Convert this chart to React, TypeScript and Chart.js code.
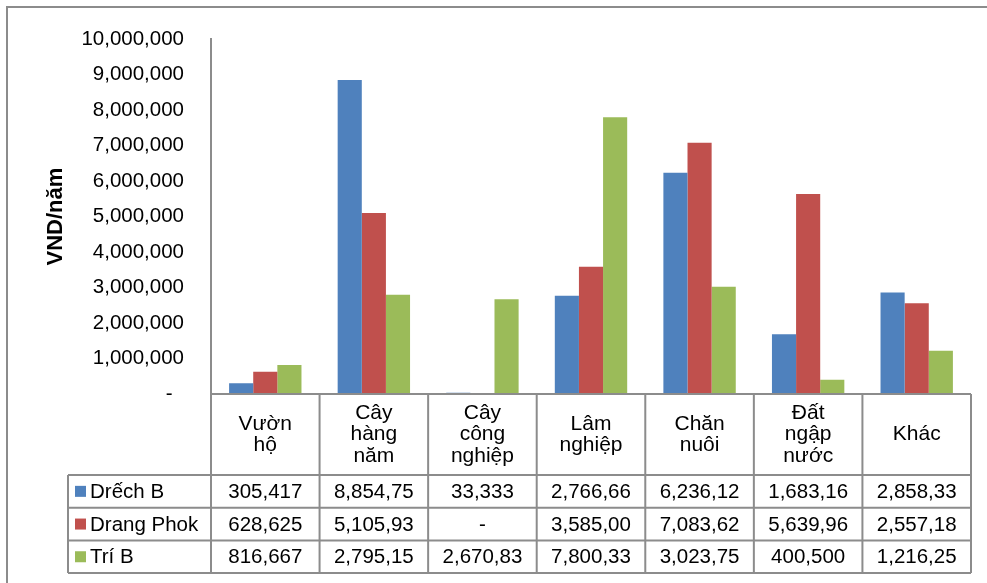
import React, { useEffect, useRef } from "react";
import { Chart, registerables } from "chart.js";

Chart.register(...registerables);

// Category labels, already broken into lines as they appear in the table header
const categories: string[][] = [
  ["Vườn", "hộ"],
  ["Cây", "hàng", "năm"],
  ["Cây", "công", "nghiệp"],
  ["Lâm", "nghiệp"],
  ["Chăn", "nuôi"],
  ["Đất", "ngập", "nước"],
  ["Khác"],
];

const seriesNames = ["Drếch B", "Drang Phok", "Trí B"];
const seriesColors = ["#4F81BD", "#C0504D", "#9BBB59"];

// Income by source, VND per year
const drechB = [305417, 8854750, 33333, 2766667, 6236125, 1683167, 2858333];
const drangPhok = [628625, 5105938, 0, 3585000, 7083625, 5639962, 2557188];
const triB = [816667, 2795150, 2670833, 7800333, 3023750, 400500, 1216250];

const seriesValues = [drechB, drangPhok, triB];

const yMax = 10000000;
const yStep = 1000000;
const yTitle = "VND/năm";

const LINE_COLOR = "#8C8C8C";
const FONT = "'Liberation Sans', Arial, sans-serif";
const NARROW_FONT = "'Liberation Sans Narrow', 'Arial Narrow', 'Liberation Sans', sans-serif";

// Cell text: thousands separators, zero shown as a dash, clipped to the cell width
function cellText(v: number): string {
  if (v === 0) return "-";
  const s = v.toLocaleString("en-US");
  return s.length > 8 ? s.slice(0, 8) : s;
}

const dataTablePlugin = {
  id: "dataTable",
  afterDraw(chart: any) {
    const { ctx, chartArea, scales } = chart;
    const xs = scales.x;
    const n = categories.length;
    const colW = (chartArea.right - chartArea.left) / n;
    const top = chartArea.bottom;
    const headerH = 81;
    const rowH = 32.7;
    const labelLeft = 68;
    const tableLeft = chartArea.left;
    const tableRight = chartArea.right;
    const rowsTop = top + headerH;
    const bottom = rowsTop + rowH * seriesNames.length;

    ctx.save();

    // outer frame (top and left edges)
    ctx.strokeStyle = LINE_COLOR;
    ctx.lineWidth = 2;
    ctx.beginPath();
    ctx.moveTo(7, chart.height);
    ctx.lineTo(7, 7);
    ctx.lineTo(chart.width, 7);
    ctx.stroke();

    ctx.lineWidth = 2;
    ctx.strokeStyle = LINE_COLOR;
    ctx.beginPath();
    // axis / header top line
    ctx.moveTo(tableLeft, top);
    ctx.lineTo(tableRight, top);
    // row lines
    for (let r = 0; r <= seriesNames.length; r++) {
      const y = rowsTop + r * rowH;
      ctx.moveTo(labelLeft, y);
      ctx.lineTo(tableRight, y);
    }
    // column boundaries
    for (let i = 0; i < n; i++) {
      const cx = xs.getPixelForValue(i);
      const x0 = cx - colW / 2;
      ctx.moveTo(x0, top);
      ctx.lineTo(x0, bottom);
    }
    ctx.moveTo(tableRight, top);
    ctx.lineTo(tableRight, bottom);
    ctx.moveTo(labelLeft, rowsTop);
    ctx.lineTo(labelLeft, bottom);
    ctx.stroke();

    // header labels
    ctx.fillStyle = "#000";
    ctx.textAlign = "center";
    ctx.textBaseline = "middle";
    ctx.font = `21px ${NARROW_FONT}`;
    const lineGap = 21.5;
    const headerMid = top + headerH / 2;
    categories.forEach((lines, i) => {
      const cx = xs.getPixelForValue(i);
      const y0 = headerMid - ((lines.length - 1) * lineGap) / 2;
      lines.forEach((t, k) => ctx.fillText(t, cx, y0 + k * lineGap));
    });

    // series rows
    ctx.font = `20.5px ${FONT}`;
    seriesNames.forEach((name, r) => {
      const cy = rowsTop + r * rowH + rowH / 2;
      ctx.fillStyle = seriesColors[r];
      ctx.fillRect(75, cy - 5.5, 11, 11);
      ctx.fillStyle = "#000";
      ctx.textAlign = "left";
      ctx.fillText(name, 90, cy + 1);
      ctx.textAlign = "center";
      seriesValues[r].forEach((v, i) => {
        ctx.fillText(cellText(v), xs.getPixelForValue(i), cy + 1);
      });
    });

    ctx.restore();
  },
};

export default function App() {
  const canvasRef = useRef<HTMLCanvasElement | null>(null);

  useEffect(() => {
    const canvas = canvasRef.current;
    if (!canvas) return;
    const chart = new Chart(canvas, {
      type: "bar",
      data: {
        labels: categories,
        datasets: seriesNames.map((name, i) => ({
          label: name,
          data: seriesValues[i],
          backgroundColor: seriesColors[i],
          borderWidth: 0,
          barPercentage: 1,
          categoryPercentage: 3 / 4.5,
        })),
      },
      options: {
        responsive: false,
        animation: false,
        devicePixelRatio: 1,
        layout: { padding: { top: 38, right: 16, bottom: 189, left: 0 } },
        plugins: {
          legend: { display: false },
          tooltip: { enabled: false },
        },
        scales: {
          x: { display: false },
          y: {
            min: 0,
            max: yMax,
            afterFit: (scale: any) => {
              scale.width = 211;
            },
            ticks: {
              stepSize: yStep,
              padding: 27,
              color: "#000",
              font: { family: FONT, size: 20.5 },
              callback: (v: any) => (Number(v) === 0 ? "-  " : Number(v).toLocaleString("en-US")),
            },
            grid: { display: false, drawTicks: false },
            border: { display: true, color: LINE_COLOR, width: 2 },
            title: {
              display: true,
              text: yTitle,
              color: "#000",
              font: { family: FONT, size: 22, weight: "bold" },
              padding: { top: 43, bottom: 0 },
            },
          },
        },
      },
      plugins: [dataTablePlugin],
    });
    return () => chart.destroy();
  }, []);

  return (
    <div style={{ position: "fixed", left: 0, top: 0, width: 987, height: 583, background: "#fff" }}>
      <canvas ref={canvasRef} width={987} height={583} style={{ display: "block" }} />
    </div>
  );
}
